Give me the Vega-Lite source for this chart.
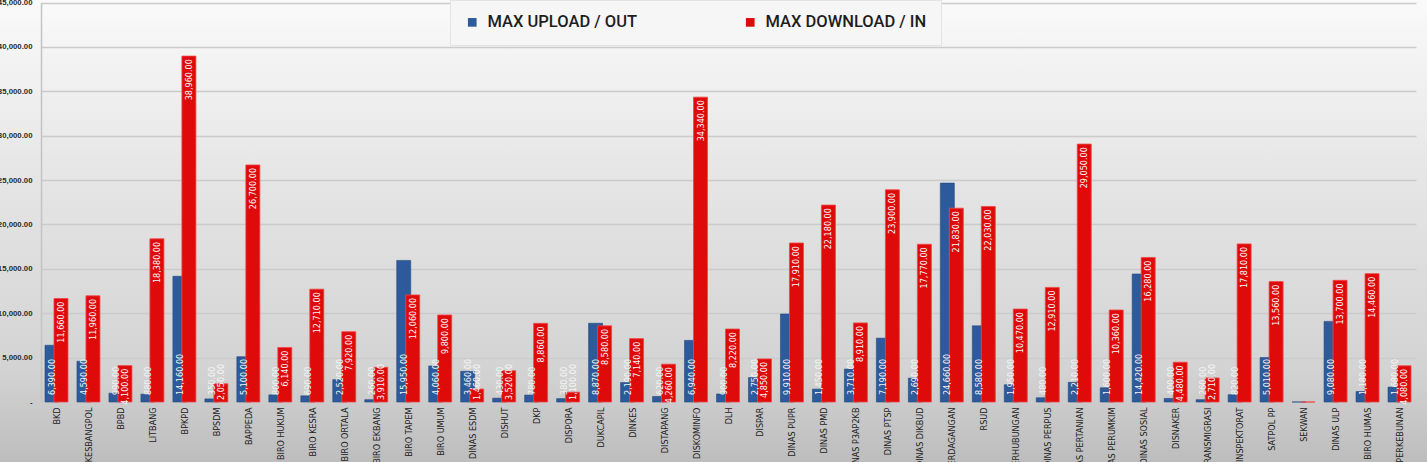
{
  "$schema": "https://vega.github.io/schema/vega-lite/v6.json",
  "width": 1427,
  "height": 462,
  "autosize": {"type": "none"},
  "padding": 0,
  "background": "#c9c9c9",
  "config": {
    "view": {
      "stroke": null,
      "fill": {"gradient": "linear", "x1": 0, "y1": 0, "x2": 0, "y2": 1,
        "stops": [
          {"offset": 0, "color": "#fafafa"},
          {"offset": 0.35, "color": "#e7e7e7"},
          {"offset": 0.8, "color": "#d3d3d3"},
          {"offset": 1, "color": "#bdbdbd"}
        ]}
    },
    "text": {"font": "'Liberation Sans Narrow', 'DejaVu Sans Condensed', 'Liberation Sans', sans-serif"}
  },
  "data": {"values": [
    {"unit": "BKD", "series": "MAX UPLOAD / OUT", "value": 6390}, {"unit": "BKD", "series": "MAX DOWNLOAD / IN", "value": 11660},
    {"unit": "KESBANGPOL", "series": "MAX UPLOAD / OUT", "value": 4590}, {"unit": "KESBANGPOL", "series": "MAX DOWNLOAD / IN", "value": 11960},
    {"unit": "BPBD", "series": "MAX UPLOAD / OUT", "value": 990}, {"unit": "BPBD", "series": "MAX DOWNLOAD / IN", "value": 4100},
    {"unit": "LITBANG", "series": "MAX UPLOAD / OUT", "value": 880}, {"unit": "LITBANG", "series": "MAX DOWNLOAD / IN", "value": 18380},
    {"unit": "BPKPD", "series": "MAX UPLOAD / OUT", "value": 14160}, {"unit": "BPKPD", "series": "MAX DOWNLOAD / IN", "value": 38960},
    {"unit": "BPSDM", "series": "MAX UPLOAD / OUT", "value": 350}, {"unit": "BPSDM", "series": "MAX DOWNLOAD / IN", "value": 2050},
    {"unit": "BAPPEDA", "series": "MAX UPLOAD / OUT", "value": 5100}, {"unit": "BAPPEDA", "series": "MAX DOWNLOAD / IN", "value": 26700},
    {"unit": "BIRO HUKUM", "series": "MAX UPLOAD / OUT", "value": 800}, {"unit": "BIRO HUKUM", "series": "MAX DOWNLOAD / IN", "value": 6140},
    {"unit": "BIRO KESRA", "series": "MAX UPLOAD / OUT", "value": 690}, {"unit": "BIRO KESRA", "series": "MAX DOWNLOAD / IN", "value": 12710},
    {"unit": "BIRO ORTALA", "series": "MAX UPLOAD / OUT", "value": 2520}, {"unit": "BIRO ORTALA", "series": "MAX DOWNLOAD / IN", "value": 7920},
    {"unit": "BIRO EKBANG", "series": "MAX UPLOAD / OUT", "value": 260}, {"unit": "BIRO EKBANG", "series": "MAX DOWNLOAD / IN", "value": 3910},
    {"unit": "BIRO TAPEM", "series": "MAX UPLOAD / OUT", "value": 15950}, {"unit": "BIRO TAPEM", "series": "MAX DOWNLOAD / IN", "value": 12060},
    {"unit": "BIRO UMUM", "series": "MAX UPLOAD / OUT", "value": 4060}, {"unit": "BIRO UMUM", "series": "MAX DOWNLOAD / IN", "value": 9800},
    {"unit": "DINAS ESDM", "series": "MAX UPLOAD / OUT", "value": 3460}, {"unit": "DINAS ESDM", "series": "MAX DOWNLOAD / IN", "value": 1460},
    {"unit": "DISHUT", "series": "MAX UPLOAD / OUT", "value": 430}, {"unit": "DISHUT", "series": "MAX DOWNLOAD / IN", "value": 3520},
    {"unit": "DKP", "series": "MAX UPLOAD / OUT", "value": 780}, {"unit": "DKP", "series": "MAX DOWNLOAD / IN", "value": 8860},
    {"unit": "DISPORA", "series": "MAX UPLOAD / OUT", "value": 380}, {"unit": "DISPORA", "series": "MAX DOWNLOAD / IN", "value": 1100},
    {"unit": "DUKCAPIL", "series": "MAX UPLOAD / OUT", "value": 8870}, {"unit": "DUKCAPIL", "series": "MAX DOWNLOAD / IN", "value": 8580},
    {"unit": "DINKES", "series": "MAX UPLOAD / OUT", "value": 2190}, {"unit": "DINKES", "series": "MAX DOWNLOAD / IN", "value": 7140},
    {"unit": "DISTAPANG", "series": "MAX UPLOAD / OUT", "value": 620}, {"unit": "DISTAPANG", "series": "MAX DOWNLOAD / IN", "value": 4260},
    {"unit": "DISKOMINFO", "series": "MAX UPLOAD / OUT", "value": 6940}, {"unit": "DISKOMINFO", "series": "MAX DOWNLOAD / IN", "value": 34340},
    {"unit": "DLH", "series": "MAX UPLOAD / OUT", "value": 900}, {"unit": "DLH", "series": "MAX DOWNLOAD / IN", "value": 8220},
    {"unit": "DISPAR", "series": "MAX UPLOAD / OUT", "value": 2750}, {"unit": "DISPAR", "series": "MAX DOWNLOAD / IN", "value": 4850},
    {"unit": "DINAS PUPR", "series": "MAX UPLOAD / OUT", "value": 9910}, {"unit": "DINAS PUPR", "series": "MAX DOWNLOAD / IN", "value": 17910},
    {"unit": "DINAS PMD", "series": "MAX UPLOAD / OUT", "value": 1450}, {"unit": "DINAS PMD", "series": "MAX DOWNLOAD / IN", "value": 22180},
    {"unit": "DINAS P3AP2KB", "series": "MAX UPLOAD / OUT", "value": 3710}, {"unit": "DINAS P3AP2KB", "series": "MAX DOWNLOAD / IN", "value": 8910},
    {"unit": "DINAS PTSP", "series": "MAX UPLOAD / OUT", "value": 7190}, {"unit": "DINAS PTSP", "series": "MAX DOWNLOAD / IN", "value": 23900},
    {"unit": "DINAS DIKBUD", "series": "MAX UPLOAD / OUT", "value": 2690}, {"unit": "DINAS DIKBUD", "series": "MAX DOWNLOAD / IN", "value": 17770},
    {"unit": "DINAS PERDAGANGAN", "series": "MAX UPLOAD / OUT", "value": 24660}, {"unit": "DINAS PERDAGANGAN", "series": "MAX DOWNLOAD / IN", "value": 21830},
    {"unit": "RSUD", "series": "MAX UPLOAD / OUT", "value": 8580}, {"unit": "RSUD", "series": "MAX DOWNLOAD / IN", "value": 22030},
    {"unit": "DINAS PERHUBUNGAN", "series": "MAX UPLOAD / OUT", "value": 1950}, {"unit": "DINAS PERHUBUNGAN", "series": "MAX DOWNLOAD / IN", "value": 10470},
    {"unit": "DINAS PERPUS", "series": "MAX UPLOAD / OUT", "value": 480}, {"unit": "DINAS PERPUS", "series": "MAX DOWNLOAD / IN", "value": 12910},
    {"unit": "DINAS PERTANIAN", "series": "MAX UPLOAD / OUT", "value": 2210}, {"unit": "DINAS PERTANIAN", "series": "MAX DOWNLOAD / IN", "value": 29050},
    {"unit": "DINAS PERUMKIM", "series": "MAX UPLOAD / OUT", "value": 1600}, {"unit": "DINAS PERUMKIM", "series": "MAX DOWNLOAD / IN", "value": 10360},
    {"unit": "DINAS SOSIAL", "series": "MAX UPLOAD / OUT", "value": 14420}, {"unit": "DINAS SOSIAL", "series": "MAX DOWNLOAD / IN", "value": 16280},
    {"unit": "DISNAKER", "series": "MAX UPLOAD / OUT", "value": 400}, {"unit": "DISNAKER", "series": "MAX DOWNLOAD / IN", "value": 4480},
    {"unit": "DINAS TRANSMIGRASI", "series": "MAX UPLOAD / OUT", "value": 260}, {"unit": "DINAS TRANSMIGRASI", "series": "MAX DOWNLOAD / IN", "value": 2710},
    {"unit": "INSPEKTORAT", "series": "MAX UPLOAD / OUT", "value": 820}, {"unit": "INSPEKTORAT", "series": "MAX DOWNLOAD / IN", "value": 17810},
    {"unit": "SATPOL PP", "series": "MAX UPLOAD / OUT", "value": 5010}, {"unit": "SATPOL PP", "series": "MAX DOWNLOAD / IN", "value": 13560},
    {"unit": "SEKWAN", "series": "MAX UPLOAD / OUT", "value": 0}, {"unit": "SEKWAN", "series": "MAX DOWNLOAD / IN", "value": 0},
    {"unit": "DINAS ULP", "series": "MAX UPLOAD / OUT", "value": 9080}, {"unit": "DINAS ULP", "series": "MAX DOWNLOAD / IN", "value": 13700},
    {"unit": "BIRO HUMAS", "series": "MAX UPLOAD / OUT", "value": 1180}, {"unit": "BIRO HUMAS", "series": "MAX DOWNLOAD / IN", "value": 14460},
    {"unit": "DINAS PERKEBUNAN", "series": "MAX UPLOAD / OUT", "value": 1680}, {"unit": "DINAS PERKEBUNAN", "series": "MAX DOWNLOAD / IN", "value": 4080}
  ]},
  "encoding": {
    "x": {
      "field": "unit", "type": "nominal", "sort": null,
      "scale": {"range": [41, 1416], "paddingInner": 0, "paddingOuter": 0},
      "axis": {
        "title": null, "orient": "bottom", "offset": -60, "labelAngle": -90,
        "labelPadding": 5, "ticks": false, "domain": false, "grid": false,
        "labelFont": "'Liberation Sans Narrow', 'DejaVu Sans Condensed', 'Liberation Sans', sans-serif",
        "labelFontSize": 9, "labelFontWeight": "normal", "labelColor": "#222222", "labelLimit": 300
      }
    },
    "y": {
      "type": "quantitative",
      "scale": {"domain": [0, 45000], "range": [402, 2.5], "nice": false, "zero": true},
      "axis": {
        "title": null, "orient": "left", "offset": -41,
        "values": [0, 5000, 10000, 15000, 20000, 25000, 30000, 35000, 40000, 45000],
        "labelExpr": "datum.value == 0 ? '-\u00a0\u00a0\u00a0\u00a0' : format(datum.value, ',.2f')",
        "labelPadding": 9, "ticks": false,
        "domain": true, "domainColor": "#c4c4c4", "domainWidth": 1.5,
        "grid": true, "gridColor": "#cbcbcb", "gridWidth": 1.5,
        "labelFont": "'Liberation Sans', Arial, sans-serif",
        "labelFontSize": 7.8,
        "labelFontWeight": "bold", "labelColor": "#2a2a2a"
      }
    }
  },
  "layer": [
    {
      "transform": [{"filter": "datum.series === 'MAX UPLOAD / OUT'"}],
      "mark": {"type": "bar", "width": 14, "xOffset": -5, "stroke": "#24497f", "strokeWidth": 0.6},
      "encoding": {
        "y": {"field": "value", "type": "quantitative"},
        "color": {
          "field": "series", "type": "nominal",
          "scale": {"domain": ["MAX UPLOAD / OUT", "MAX DOWNLOAD / IN"], "range": ["#2d5a9b", "#df0b0b"]},
          "legend": {
            "title": null, "orient": "none", "legendX": 450, "legendY": 0,
            "direction": "horizontal", "fillColor": "#f6f6f6", "strokeColor": "#e4e4e4",
            "padding": 14, "columnPadding": 104, "labelOffset": 7,
            "symbolType": "square", "symbolSize": 75, "symbolStrokeWidth": 0, "symbolOpacity": 1,
            "labelFont": "Roboto", "labelFontSize": 16.5, "labelFontWeight": 500,
            "labelColor": "#1e1e1e", "labelLimit": 400
          }
        }
      }
    },
    {
      "transform": [{"filter": "datum.series === 'MAX DOWNLOAD / IN'"}],
      "mark": {"type": "bar", "width": 14, "xOffset": 4, "stroke": "#f04646", "strokeWidth": 0.8},
      "encoding": {
        "y": {"field": "value", "type": "quantitative"},
        "color": {"field": "series", "type": "nominal"}
      }
    },
    {
      "transform": [{"filter": "datum.series === 'MAX UPLOAD / OUT' && datum.value > 0"}],
      "mark": {"type": "text", "angle": 270, "align": "left", "baseline": "middle", "dx": 7, "xOffset": -5, "fontSize": 9, "color": "#f4f4f4"},
      "encoding": {
        "y": {"datum": 0, "type": "quantitative"},
        "text": {"field": "value", "type": "quantitative", "format": ",.2f"}
      }
    },
    {
      "transform": [{"filter": "datum.series === 'MAX DOWNLOAD / IN' && datum.value >= 4000"}],
      "mark": {"type": "text", "angle": 270, "align": "right", "baseline": "middle", "dx": -3, "xOffset": 4, "fontSize": 9, "color": "#f8f8f8"},
      "encoding": {
        "y": {"field": "value", "type": "quantitative"},
        "text": {"field": "value", "type": "quantitative", "format": ",.2f"}
      }
    },
    {
      "transform": [{"filter": "datum.series === 'MAX DOWNLOAD / IN' && datum.value > 0 && datum.value < 4000"}],
      "mark": {"type": "text", "angle": 270, "align": "left", "baseline": "middle", "dx": 2, "xOffset": 4, "fontSize": 9, "color": "#f8f8f8"},
      "encoding": {
        "y": {"datum": 0, "type": "quantitative"},
        "text": {"field": "value", "type": "quantitative", "format": ",.2f"}
      }
    }
  ]
}
